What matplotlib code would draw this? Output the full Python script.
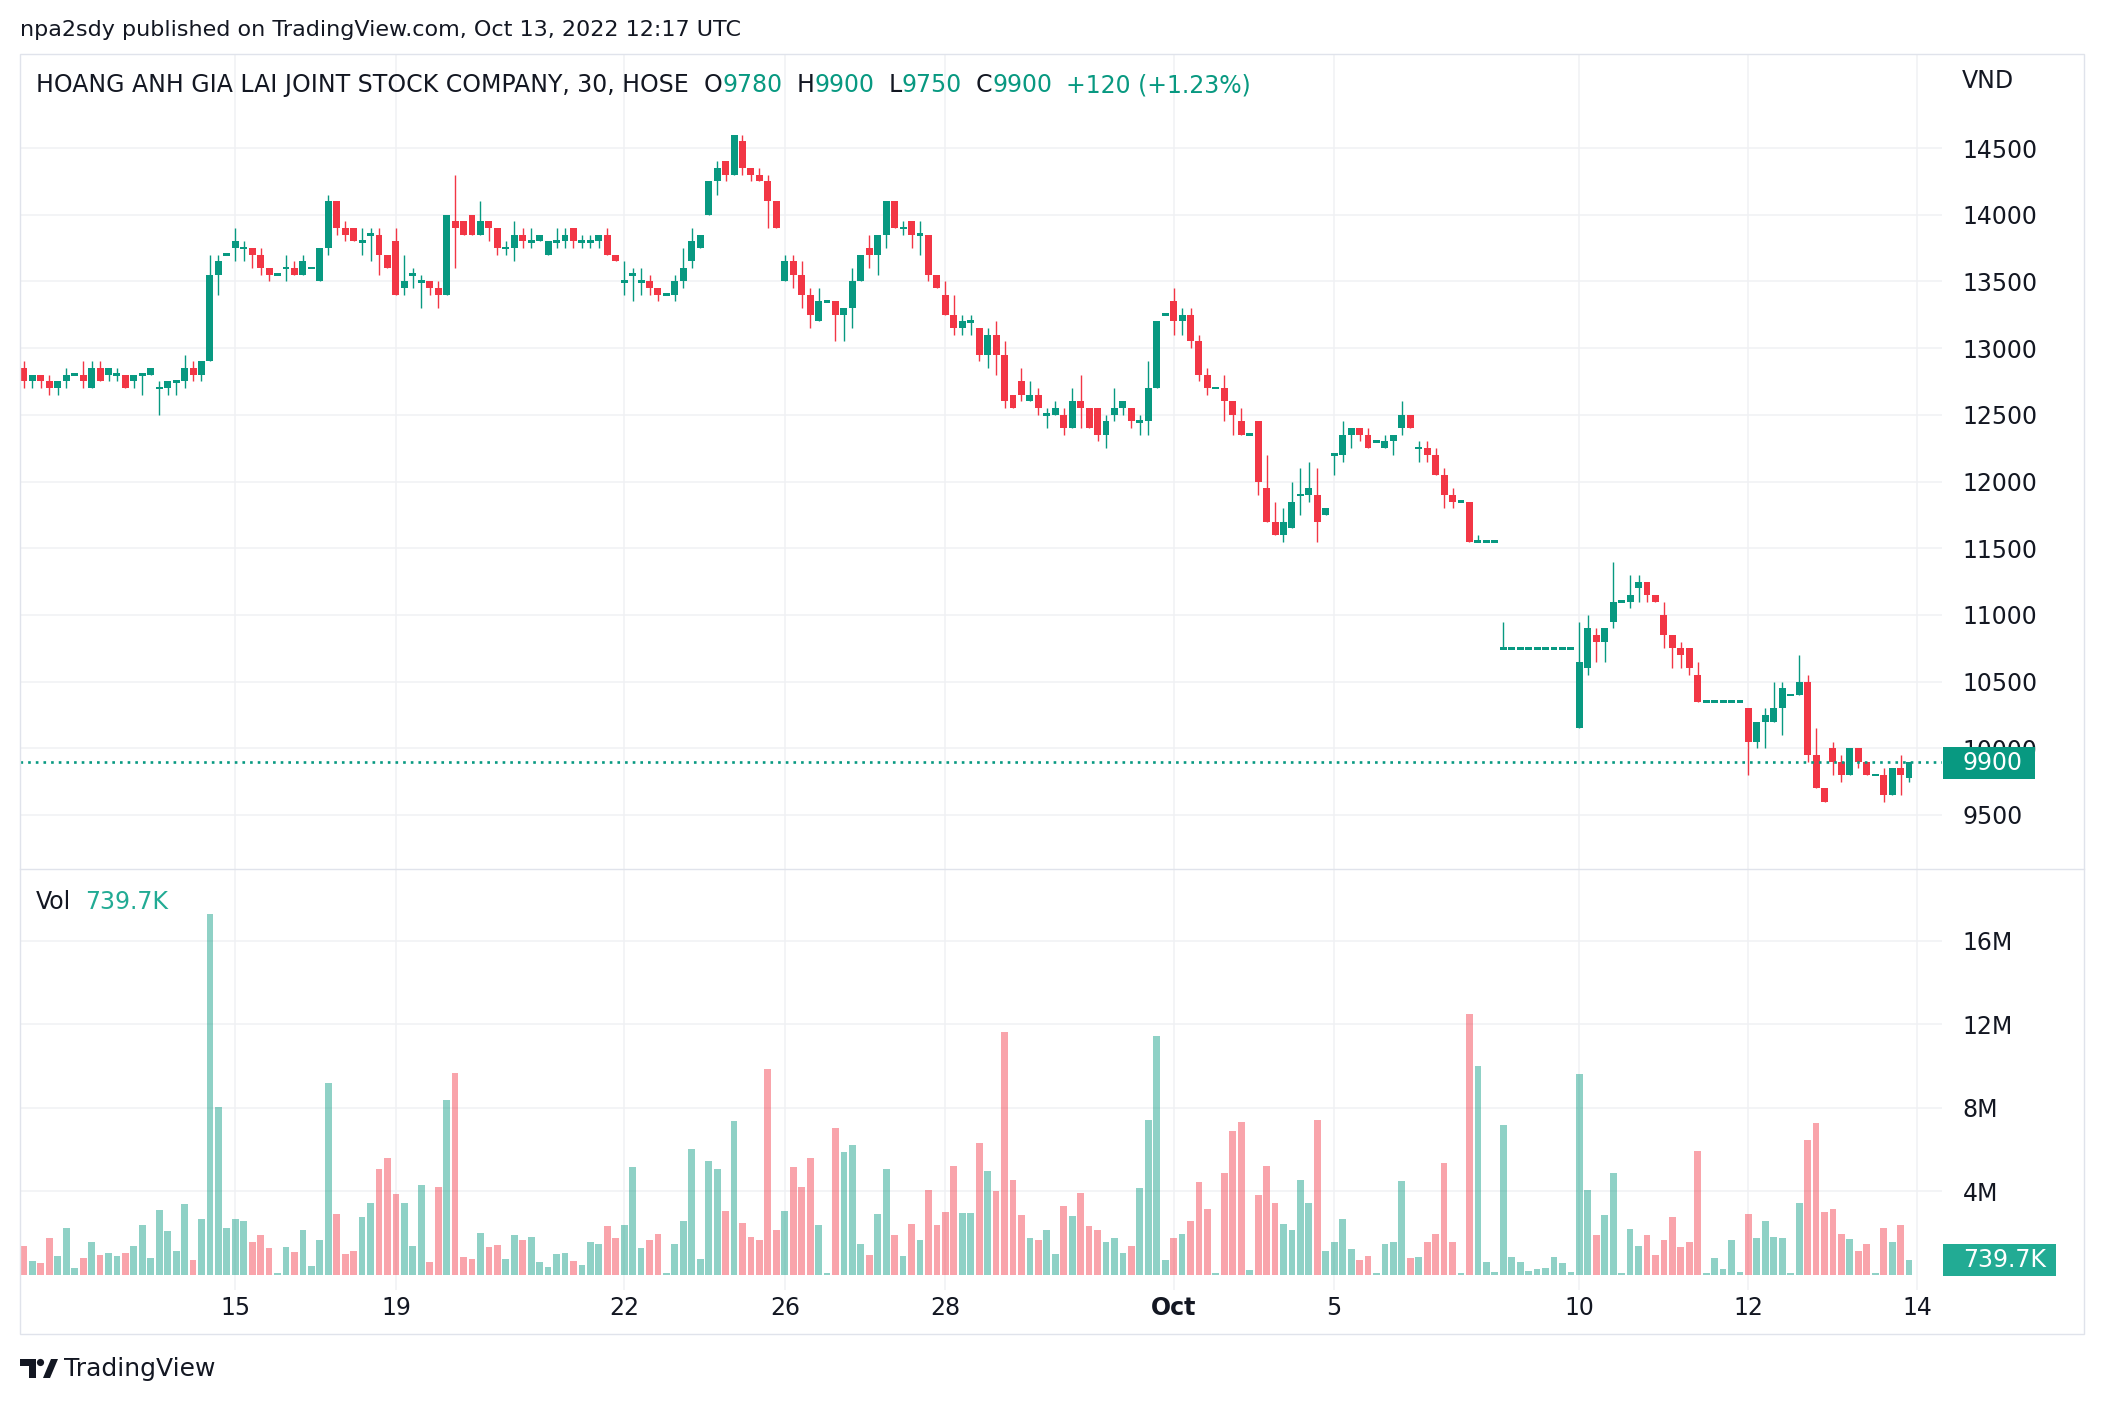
import matplotlib
matplotlib.use("Agg")
import matplotlib.pyplot as plt
import numpy as np
from matplotlib.transforms import Affine2D
from matplotlib.patches import Rectangle, Polygon, Circle
from matplotlib.lines import Line2D

plt.rcParams['font.family'] = ['DejaVu Sans']

# ---- data: 30-minute bars, HAG (HOSE), Sep 12 - Oct 13 2022 ----
opens = [
    12850, 12750, 12800, 12750, 12700, 12750, 12800, 12800, 12700, 12850,
    12800, 12800, 12800, 12750, 12800, 12800, 12700, 12700, 12750, 12750,
    12850, 12800, 12900, 13550, 13700, 13750, 13750, 13750, 13700, 13600,
    13550, 13600, 13600, 13550, 13600, 13500, 13750, 14100, 13900, 13900,
    13800, 13850, 13850, 13700, 13800, 13450, 13550, 13500, 13500, 13450,
    13400, 13950, 13950, 14000, 13850, 13950, 13900, 13750, 13750, 13850,
    13800, 13800, 13700, 13800, 13800, 13900, 13800, 13800, 13800, 13850,
    13700, 13500, 13550, 13500, 13500, 13450, 13400, 13400, 13500, 13650,
    13750, 14000, 14250, 14400, 14300, 14550, 14350, 14300, 14250, 14100,
    13500, 13650, 13550, 13400, 13200, 13350, 13350, 13250, 13300, 13500,
    13750, 13700, 13850, 14100, 13900, 13950, 13850, 13850, 13550, 13400,
    13250, 13150, 13200, 13150, 12950, 13100, 12950, 12650, 12750, 12600,
    12650, 12500, 12500, 12500, 12400, 12600, 12550, 12550, 12350, 12500,
    12550, 12550, 12450, 12450, 12700, 13250, 13350, 13200, 13250, 13050,
    12800, 12700, 12700, 12600, 12450, 12350, 12450, 11950, 11700, 11600,
    11650, 11900, 11900, 11900, 11750, 12200, 12200, 12350, 12400, 12350,
    12300, 12250, 12300, 12400, 12500, 12250, 12250, 12200, 12050, 11900,
    11850, 11850, 11550, 11550, 11550, 10750, 10750, 10750, 10750, 10750,
    10750, 10750, 10750, 10750, 10150, 10600, 10850, 10800, 10950, 11100,
    11100, 11200, 11250, 11150, 11000, 10850, 10750, 10750, 10550, 10350,
    10350, 10350, 10350, 10350, 10300, 10050, 10200, 10200, 10300, 10400,
    10400, 10500, 9950, 9700, 10000, 9900, 9800, 10000, 9900, 9800,
    9800, 9650, 9850, 9780,
]
highs = [
    12900, 12800, 12800, 12800, 12750, 12850, 12800, 12900, 12900, 12900,
    12850, 12850, 12800, 12800, 12800, 12850, 12750, 12750, 12750, 12950,
    12900, 12900, 13700, 13700, 13700, 13900, 13800, 13750, 13750, 13600,
    13550, 13700, 13650, 13700, 13600, 13750, 14150, 14100, 13950, 13900,
    13900, 13900, 13900, 13700, 13900, 13700, 13600, 13550, 13500, 13500,
    14000, 14300, 13950, 14000, 14100, 13950, 13900, 13800, 13950, 13900,
    13900, 13850, 13800, 13900, 13900, 13900, 13850, 13850, 13850, 13900,
    13700, 13650, 13600, 13600, 13550, 13450, 13400, 13550, 13750, 13900,
    13850, 14250, 14400, 14400, 14600, 14600, 14350, 14350, 14300, 14100,
    13700, 13700, 13650, 13450, 13450, 13350, 13350, 13300, 13600, 13700,
    13850, 13850, 14100, 14100, 13950, 13950, 13950, 13850, 13550, 13500,
    13400, 13250, 13250, 13150, 13150, 13200, 13050, 12650, 12850, 12750,
    12700, 12550, 12600, 12550, 12700, 12800, 12550, 12550, 12500, 12700,
    12600, 12550, 12500, 12900, 13200, 13250, 13450, 13300, 13300, 13100,
    12850, 12700, 12800, 12600, 12550, 12350, 12450, 12200, 11850, 11800,
    12000, 12100, 12150, 12100, 11800, 12200, 12450, 12400, 12400, 12400,
    12300, 12350, 12350, 12600, 12500, 12300, 12300, 12250, 12100, 11950,
    11850, 11850, 11600, 11550, 11550, 10950, 10750, 10750, 10750, 10750,
    10750, 10750, 10750, 10750, 10950, 11000, 10900, 10900, 11400, 11100,
    11300, 11300, 11250, 11150, 11100, 10850, 10800, 10750, 10650, 10350,
    10350, 10350, 10350, 10350, 10300, 10200, 10300, 10500, 10500, 10400,
    10700, 10550, 10150, 9700, 10050, 9950, 10000, 10000, 9900, 9800,
    9850, 9850, 9950, 9900,
]
lows = [
    12700, 12700, 12700, 12650, 12650, 12700, 12800, 12700, 12700, 12750,
    12750, 12750, 12700, 12700, 12650, 12800, 12500, 12650, 12650, 12700,
    12750, 12750, 12900, 13400, 13700, 13650, 13650, 13600, 13550, 13500,
    13550, 13500, 13550, 13550, 13600, 13500, 13700, 13850, 13800, 13800,
    13700, 13650, 13550, 13600, 13400, 13400, 13450, 13300, 13400, 13300,
    13400, 13600, 13850, 13850, 13850, 13800, 13700, 13700, 13650, 13750,
    13750, 13800, 13700, 13750, 13750, 13750, 13750, 13750, 13750, 13700,
    13650, 13400, 13350, 13400, 13400, 13350, 13400, 13350, 13450, 13600,
    13750, 14000, 14150, 14250, 14300, 14300, 14250, 14250, 13900, 13900,
    13500, 13450, 13300, 13150, 13200, 13350, 13050, 13050, 13150, 13500,
    13600, 13550, 13750, 13900, 13850, 13750, 13700, 13500, 13450, 13250,
    13100, 13100, 13100, 12900, 12850, 12800, 12550, 12550, 12600, 12600,
    12500, 12400, 12500, 12350, 12400, 12400, 12400, 12300, 12250, 12450,
    12500, 12400, 12350, 12350, 12700, 13250, 13100, 13100, 13000, 12750,
    12650, 12700, 12450, 12350, 12350, 12350, 11900, 11700, 11600, 11550,
    11650, 11750, 11850, 11550, 11750, 12050, 12150, 12250, 12300, 12250,
    12300, 12250, 12200, 12350, 12400, 12150, 12150, 12050, 11800, 11800,
    11850, 11550, 11550, 11550, 11550, 10750, 10750, 10750, 10750, 10750,
    10750, 10750, 10750, 10750, 10150, 10550, 10650, 10650, 10900, 11100,
    11050, 11100, 11100, 11100, 10750, 10600, 10600, 10550, 10350, 10350,
    10350, 10350, 10350, 10350, 9800, 10000, 10000, 10200, 10100, 10400,
    10400, 9900, 9700, 9600, 9800, 9750, 9800, 9850, 9800, 9800,
    9600, 9650, 9650, 9750,
]
closes = [
    12750, 12800, 12750, 12700, 12750, 12800, 12800, 12750, 12850, 12750,
    12850, 12800, 12700, 12800, 12800, 12850, 12700, 12750, 12750, 12850,
    12800, 12900, 13550, 13650, 13700, 13800, 13750, 13700, 13600, 13550,
    13550, 13600, 13550, 13650, 13600, 13750, 14100, 13900, 13850, 13800,
    13800, 13850, 13700, 13600, 13400, 13500, 13550, 13500, 13450, 13400,
    14000, 13900, 13850, 13850, 13950, 13900, 13750, 13750, 13850, 13800,
    13800, 13850, 13800, 13800, 13850, 13800, 13800, 13800, 13850, 13700,
    13650, 13500, 13550, 13500, 13450, 13400, 13400, 13500, 13600, 13800,
    13850, 14250, 14350, 14300, 14600, 14350, 14300, 14250, 14100, 13900,
    13650, 13550, 13400, 13250, 13350, 13350, 13250, 13300, 13500, 13700,
    13700, 13850, 14100, 13900, 13900, 13850, 13850, 13550, 13450, 13250,
    13150, 13200, 13200, 12950, 13100, 12950, 12600, 12550, 12650, 12650,
    12550, 12500, 12550, 12400, 12600, 12550, 12400, 12350, 12450, 12550,
    12600, 12450, 12450, 12700, 13200, 13250, 13200, 13250, 13050, 12800,
    12700, 12700, 12600, 12500, 12350, 12350, 12000, 11700, 11600, 11700,
    11850, 11900, 11950, 11700, 11800, 12200, 12350, 12400, 12350, 12250,
    12300, 12300, 12350, 12500, 12400, 12250, 12200, 12050, 11900, 11850,
    11850, 11550, 11550, 11550, 11550, 10750, 10750, 10750, 10750, 10750,
    10750, 10750, 10750, 10750, 10650, 10900, 10800, 10900, 11100, 11100,
    11150, 11250, 11150, 11100, 10850, 10750, 10700, 10600, 10350, 10350,
    10350, 10350, 10350, 10350, 10050, 10200, 10250, 10300, 10450, 10400,
    10500, 9950, 9700, 9600, 9900, 9800, 10000, 9900, 9800, 9800,
    9650, 9850, 9800, 9900,
]
# volume in millions of shares
volume_m = [
    1.37, 0.65, 0.56, 1.75, 0.89, 2.27, 0.32, 0.79, 1.56, 0.94,
    1.03, 0.89, 1.03, 1.37, 2.37, 0.79, 3.13, 2.08, 1.13, 3.41,
    0.70, 2.70, 17.3, 8.03, 2.27, 2.70, 2.56, 1.56, 1.89, 1.27,
    0.08, 1.32, 1.08, 2.13, 0.41, 1.65, 9.21, 2.94, 0.98, 1.13,
    2.79, 3.46, 5.08, 5.60, 3.89, 3.46, 1.37, 4.29, 0.60, 4.19,
    8.37, 9.68, 0.84, 0.75, 2.03, 1.32, 1.41, 0.75, 1.89, 1.65,
    1.84, 0.60, 0.37, 0.98, 1.03, 0.65, 0.46, 1.60, 1.46, 2.32,
    1.75, 2.37, 5.17, 1.27, 1.65, 1.94, 0.08, 1.46, 2.60, 6.03,
    0.75, 5.46, 5.08, 3.08, 7.37, 2.51, 1.84, 1.65, 9.84, 2.17,
    3.08, 5.17, 4.22, 5.60, 2.41, 0.08, 7.03, 5.89, 6.22, 1.46,
    0.94, 2.94, 5.08, 1.89, 0.89, 2.46, 1.65, 4.08, 2.37, 3.03,
    5.22, 2.98, 2.98, 6.32, 4.98, 4.03, 11.65, 4.56, 2.89, 1.79,
    1.65, 2.13, 0.98, 3.32, 2.84, 3.94, 2.32, 2.13, 1.56, 1.75,
    1.03, 1.37, 4.17, 7.43, 11.46, 0.70, 1.79, 1.94, 2.56, 4.46,
    3.17, 0.08, 4.89, 6.89, 7.32, 0.22, 3.83, 5.22, 3.46, 2.46,
    2.13, 4.56, 3.46, 7.43, 1.13, 1.60, 2.70, 1.22, 0.70, 0.89,
    0.08, 1.46, 1.56, 4.51, 0.79, 0.84, 1.60, 1.98, 5.37, 1.56,
    0.08, 12.5, 9.98, 0.60, 0.13, 7.17, 0.84, 0.60, 0.17, 0.27,
    0.32, 0.84, 0.56, 0.13, 9.60, 4.08, 1.89, 2.89, 4.89, 0.08,
    2.22, 1.37, 1.89, 0.94, 1.65, 2.79, 1.32, 1.60, 5.94, 0.08,
    0.79, 0.27, 1.65, 0.13, 2.94, 1.79, 2.56, 1.84, 1.75, 0.08,
    3.46, 6.46, 7.27, 3.03, 3.17, 1.94, 1.70, 1.17, 1.46, 0.08,
    2.27, 1.60, 2.41, 0.7397,
]
# first bar of each labelled day
tick_bars = [25, 44, 71, 90, 109, 136, 155, 184, 204, 224]
tick_labels = ['15', '19', '22', '26', '28', 'Oct', '5', '10', '12', '14']
price_ticks = [9500, 10000, 10500, 11000, 11500, 12000, 12500, 13000, 13500, 14000, 14500]
vol_ticks = [4, 8, 12, 16]
vol_tick_labels = ['4M', '8M', '12M', '16M']

GREEN = '#089981'
RED = '#f23645'
TXT = '#131722'
GRID = '#f0f1f4'
FS = 17
W, H = 2106, 1404

o = np.array(opens); h = np.array(highs); l = np.array(lows); c = np.array(closes)
vol = np.array(volume_m)
x = np.arange(len(o))
up = c >= o
cols = np.where(up, GREEN, RED)

fig = plt.figure(figsize=(W / 100, H / 100), dpi=100)
fig.patch.set_facecolor('white')
# pixel coordinates, y downwards
px = Affine2D().scale(1 / W, -1 / H).translate(0, 1) + fig.transFigure


def box(x0, y0, x1, y1):
    return [x0 / W, 1 - y1 / H, (x1 - x0) / W, (y1 - y0) / H]


ax = fig.add_axes(box(20, 54, 1942, 869))
axv = fig.add_axes(box(20, 869, 1942, 1290))

for a in (ax, axv):
    for s in a.spines.values():
        s.set_visible(False)
    a.set_xlim(-0.47, 226.9)
    a.set_xticks(tick_bars)
    a.grid(True, color=GRID, lw=1.1)
    a.set_axisbelow(True)
    a.yaxis.tick_right()
    a.tick_params(axis='both', length=0, labelsize=FS, labelcolor=TXT)
    a.tick_params(axis='y', pad=15)

# candles
ax.vlines(x, l, h, colors=cols, lw=1.0, zorder=2)
body_h = np.abs(c - o).astype(float)
doji = body_h == 0
body_bot = np.minimum(o, c).astype(float)
body_bot[doji] -= 10
body_h[doji] = 20
ax.bar(x, body_h, bottom=body_bot, width=0.82, color=cols, zorder=3, lw=0)
ax.axhline(c[-1], color=GREEN, lw=1.9, ls=(0, (1, 1.9)), zorder=4)
ax.set_ylim(9095, 15205)
ax.set_yticks(price_ticks)
ax.set_yticklabels([str(p) for p in price_ticks])
ax.tick_params(axis='x', labelbottom=False)

# volume
vcols = np.where(up, GREEN, RED)
axv.bar(x, vol, width=0.8, color=vcols, alpha=0.45, lw=0, zorder=2)
axv.set_ylim(-0.72, 19.43)
axv.set_yticks(vol_ticks)
axv.set_yticklabels(vol_tick_labels)
axv.set_xticklabels(tick_labels)
axv.tick_params(axis='x', pad=4)
for lbl in axv.get_xticklabels():
    if lbl.get_text() == 'Oct':
        lbl.set_fontweight('bold')

# frame and pane separator
fig.add_artist(Rectangle((20, 54), 2064, 1280, transform=px, fill=False, ec='#e0e3eb', lw=1))
fig.add_artist(Line2D([20, 2084], [869, 869], transform=px, color='#e0e3eb', lw=1))

# last value labels on the scales
fig.add_artist(Rectangle((1943, 747), 92, 32, transform=px, fc=GREEN, ec='none'))
fig.text(1963, 763, str(c[-1]), transform=px, color='white', fontsize=FS, va='center', ha='left')
fig.add_artist(Rectangle((1943, 1244), 113, 32, transform=px, fc='#22ab94', ec='none'))
fig.text(1963, 1260, '739.7K', transform=px, color='white', fontsize=FS, va='center', ha='left')
fig.text(1962, 81, 'VND', transform=px, color=TXT, fontsize=FS, va='center', ha='left')

renderer = fig.canvas.get_renderer()


def text_row(x0, y0, parts, size):
    for s, col, gap in parts:
        t = fig.text(x0, y0, s, transform=px, color=col, fontsize=size, va='center', ha='left')
        x0 += t.get_window_extent(renderer=renderer).width + gap


fig.text(20, 30, 'npa2sdy published on TradingView.com, Oct 13, 2022 12:17 UTC',
         transform=px, color=TXT, fontsize=16, va='center', ha='left')
text_row(36, 85, [
    ('HOANG ANH GIA LAI JOINT STOCK COMPANY, 30, HOSE', TXT, 15),
    ('O', TXT, 0), ('9780', GREEN, 14),
    ('H', TXT, 0), ('9900', GREEN, 14),
    ('L', TXT, 0), ('9750', GREEN, 14),
    ('C', TXT, 0), ('9900', GREEN, 14),
    ('+120 (+1.23%)', GREEN, 0),
], FS)
text_row(36, 902, [('Vol', TXT, 14), ('739.7K', '#22ab94', 0)], FS)

# TradingView logo
fig.add_artist(Polygon([(20, 1359), (36, 1359), (36, 1378), (29, 1378), (29, 1366), (20, 1366)],
                       closed=True, transform=px, fc=TXT, ec='none'))
fig.add_artist(Circle((40.5, 1362.5), 3.6, transform=px, fc=TXT, ec='none'))
fig.add_artist(Polygon([(43, 1378), (50, 1378), (58, 1359), (51, 1359)],
                       closed=True, transform=px, fc=TXT, ec='none'))
fig.text(64, 1369, 'TradingView', transform=px, color=TXT, fontsize=18, va='center', ha='left')

fig.savefig('out.png', dpi=100)
